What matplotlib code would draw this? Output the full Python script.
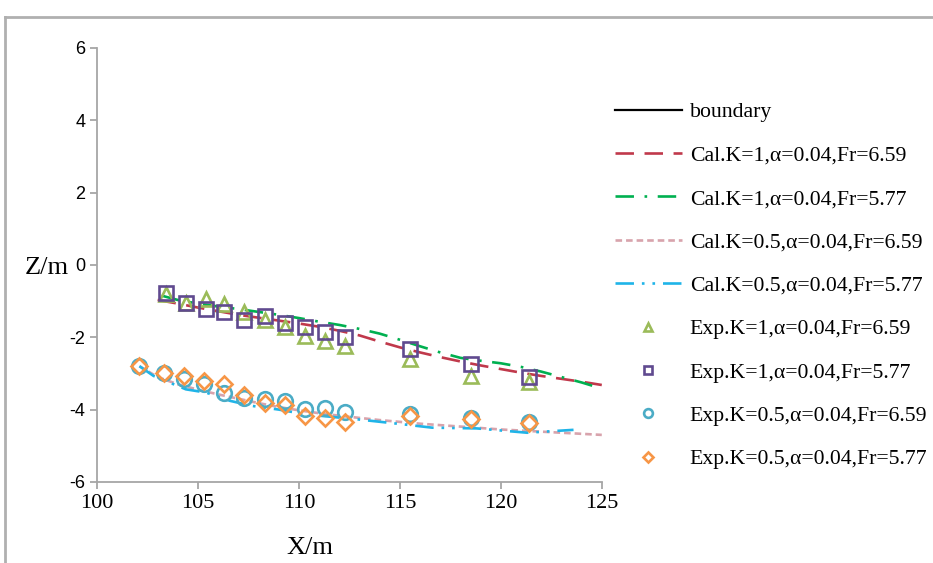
import matplotlib.pyplot as plt
from matplotlib.lines import Line2D

plt.rcParams["axes.unicode_minus"] = False

# Calculated profiles
cal_k1_fr659_x = [103.0, 104, 105, 106, 107, 108, 109, 110, 111, 112, 113, 114,
                  115, 116, 117, 118, 119, 120, 121, 122, 123, 124, 125]
cal_k1_fr659_y = [-0.97, -1.07, -1.18, -1.28, -1.38, -1.46, -1.54, -1.62, -1.71, -1.82,
                  -1.95, -2.12, -2.28, -2.42, -2.55, -2.67, -2.78, -2.88, -2.98, -3.07,
                  -3.15, -3.23, -3.32]

cal_k1_fr577_x = [103.2, 104, 105, 106, 107, 108, 109, 110, 111, 112, 113, 114,
                  115, 116, 117, 118, 119, 120, 121, 122, 123, 124, 125]
cal_k1_fr577_y = [-0.85, -0.97, -1.07, -1.15, -1.22, -1.30, -1.38, -1.47, -1.57, -1.66,
                  -1.77, -1.90, -2.07, -2.25, -2.42, -2.57, -2.65, -2.72, -2.82, -2.95,
                  -3.10, -3.25, -3.42]

cal_k05_fr659_x = [102.1, 103, 104, 105, 106, 107, 108, 109, 110, 111, 112, 113,
                   114, 115, 116, 117, 118, 119, 120, 121, 122, 123, 124, 125]
cal_k05_fr659_y = [-2.80, -3.10, -3.30, -3.45, -3.58, -3.70, -3.82, -3.93, -4.02, -4.10,
                   -4.17, -4.23, -4.29, -4.34, -4.39, -4.43, -4.47, -4.51, -4.55, -4.58,
                   -4.61, -4.64, -4.67, -4.70]

cal_k05_fr577_x = [102.1, 102.8, 104.4, 105.4, 106.6, 107.7, 109.0, 110.3, 112.9,
                   115.2, 116.6, 118.8, 121.3, 123.6]
cal_k05_fr577_y = [-2.80, -3.07, -3.44, -3.53, -3.76, -3.90, -4.00, -4.13, -4.27,
                   -4.41, -4.50, -4.52, -4.64, -4.56]

# Experimental points
exp_k1_x = [103.4, 104.4, 105.4, 106.3, 107.3, 108.3, 109.3, 110.3, 111.3, 112.3,
            115.5, 118.5, 121.4]
exp_k1_fr659_y = [-0.81, -1.04, -0.93, -1.09, -1.30, -1.51, -1.73, -1.96, -2.10, -2.24,
                  -2.61, -3.07, -3.23]
exp_k1_fr577_y = [-0.79, -1.04, -1.23, -1.31, -1.52, -1.41, -1.62, -1.73, -1.85, -1.98,
                  -2.33, -2.75, -3.09]

exp_k05_x = [102.1, 103.3, 104.3, 105.3, 106.3, 107.3, 108.3, 109.3, 110.3, 111.3,
             112.3, 115.5, 118.5, 121.4]
exp_k05_fr659_y = [-2.80, -3.00, -3.16, -3.30, -3.53, -3.67, -3.72, -3.76, -3.99, -3.97,
                   -4.07, -4.13, -4.22, -4.34]
exp_k05_fr577_y = [-2.80, -3.00, -3.08, -3.21, -3.30, -3.60, -3.81, -3.88, -4.18, -4.22,
                   -4.34, -4.18, -4.27, -4.38]

SERIF = "Liberation Serif"
SPINE = "#a6a6a6"

fig = plt.figure(figsize=(9.33, 5.63), dpi=100)
ax = fig.add_axes([0.104, 0.144, 0.541, 0.771])

lw = 1.9
ax.plot([], [], color="black", lw=1.6, label="boundary")
ax.plot(cal_k1_fr659_x, cal_k1_fr659_y, color="#c0394b", lw=lw,
        dashes=(7, 4), label="Cal.K=1,\u03b1=0.04,Fr=6.59")
ax.plot(cal_k1_fr577_x, cal_k1_fr577_y, color="#00b050", lw=lw,
        dashes=(7, 4, 1, 4), label="Cal.K=1,\u03b1=0.04,Fr=5.77")
ax.plot(cal_k05_fr659_x, cal_k05_fr659_y, color="#d8a3ac", lw=lw,
        dashes=(2.5, 1.5), label="Cal.K=0.5,\u03b1=0.04,Fr=6.59")
ax.plot(cal_k05_fr577_x, cal_k05_fr577_y, color="#1fb4e8", lw=lw,
        dashes=(7, 3, 1, 3, 1, 3), label="Cal.K=0.5,\u03b1=0.04,Fr=5.77")

mk = dict(ls="none", mfc="none", ms=10.5, mew=1.9)
ax.plot(exp_k1_x, exp_k1_fr659_y, marker="^", mec="#9bbb59",
        label="Exp.K=1,\u03b1=0.04,Fr=6.59", **mk)
ax.plot(exp_k1_x, exp_k1_fr577_y, marker="s", mec="#604a8f",
        label="Exp.K=1,\u03b1=0.04,Fr=5.77", **mk)
ax.plot(exp_k05_x, exp_k05_fr659_y, marker="o", mec="#4bacc6",
        label="Exp.K=0.5,\u03b1=0.04,Fr=6.59", **mk)
ax.plot(exp_k05_x, exp_k05_fr577_y, marker="D", mec="#f79646",
        label="Exp.K=0.5,\u03b1=0.04,Fr=5.77", **dict(mk, ms=8.5))

ax.set_xlim(100, 125)
ax.set_ylim(-6, 6)
ax.set_xticks(range(100, 126, 5))
ax.set_yticks(range(-6, 7, 2))

for s in ["top", "right"]:
    ax.spines[s].set_visible(False)
for s in ["left", "bottom"]:
    ax.spines[s].set_color(SPINE)
    ax.spines[s].set_linewidth(1.3)
ax.tick_params(axis="both", direction="out", length=5, width=1.3, color=SPINE)
for t in ax.get_xticklabels():
    t.set_fontfamily(SERIF)
    t.set_fontsize(16)
for t in ax.get_yticklabels():
    t.set_fontfamily("Liberation Sans")
    t.set_fontsize(13)

# axis titles placed as in the reference (Z/m horizontal, X/m left of centre)
fig.text(310 / 933, 1 - 548 / 563, "X/m", ha="center", va="center",
         fontfamily=SERIF, fontsize=19)
fig.text(47 / 933, 1 - 268 / 563, "Z/m", ha="center", va="center",
         fontfamily=SERIF, fontsize=19)

leg = ax.legend(loc="upper left", bbox_to_anchor=(0.647, 0.838),
                bbox_transform=fig.transFigure, frameon=False,
                prop={"family": SERIF, "size": 15.7}, handlelength=3.1,
                handletextpad=0.35, labelspacing=1.06, borderpad=0,
                markerscale=0.6)

# outer frame
fig.add_artist(Line2D([5 / 933, 1.0], [1 - 17 / 563] * 2, color="#b0b0b0", lw=2))
fig.add_artist(Line2D([5 / 933] * 2, [0, 1 - 17 / 563], color="#b0b0b0", lw=2))

fig.savefig("out.png", dpi=100)
